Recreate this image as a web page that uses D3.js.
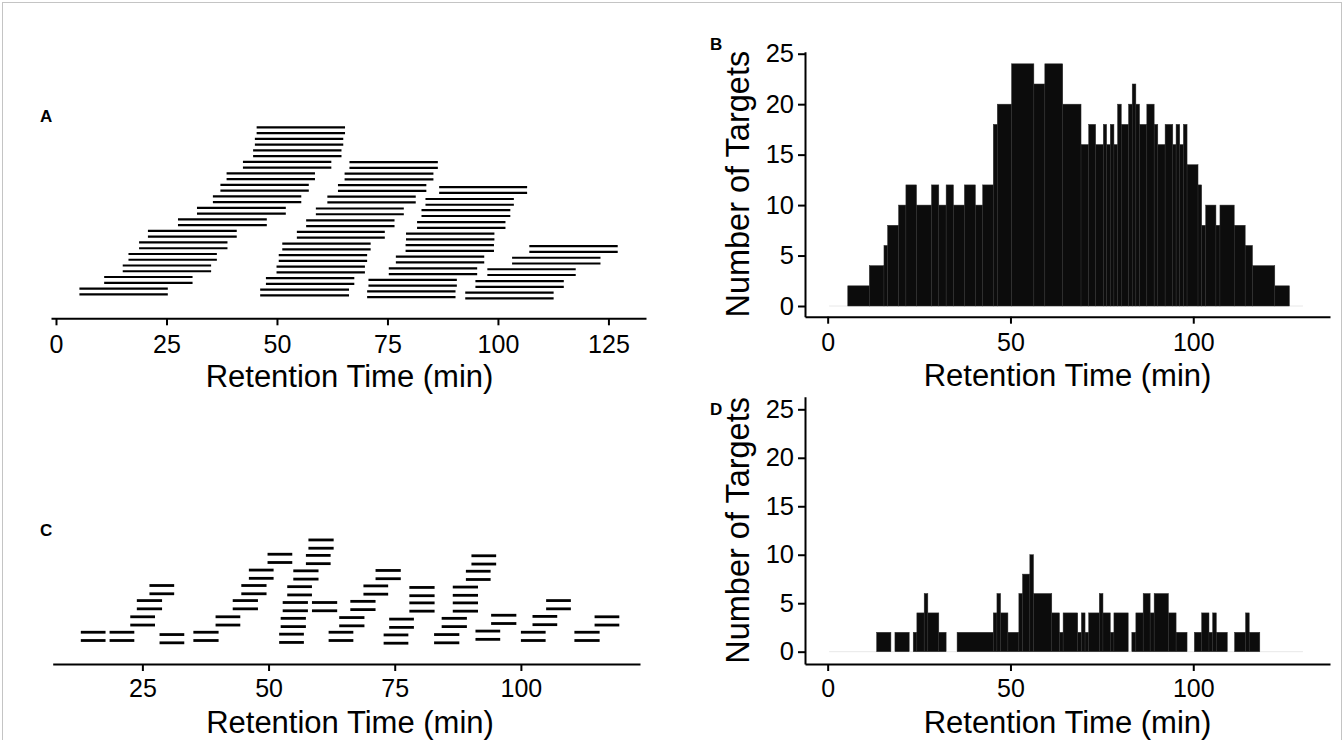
<!DOCTYPE html>
<html>
<head>
<meta charset="utf-8">
<script src="https://cdn.jsdelivr.net/npm/d3@7"></script>
<style>
  body { margin: 0; background: #fff; }
  svg { display: block; font-family: "Liberation Sans", Arial, Helvetica, sans-serif; }
</style>
</head>
<body>
<script>
'use strict';

// ---- panel A: scheduled windows, each pair of targets shares a window (min)
var aStart = [5.3, 10.9, 15.1, 16.4, 18.8, 20.8, 27.6, 31.9, 35.5, 37.2, 38.6, 42.3, 44.6, 45.0, 45.4,
              46.2, 47.5, 49.9, 50.4, 51.2, 54.5, 56.6, 58.8, 61.4, 63.8, 65.3, 66.4,
              70.4, 70.7, 75.3, 76.9, 79.1, 79.2, 81.7, 82.7, 83.6, 86.7,
              92.6, 94.9, 97.6, 103.2, 107.1];
var aEnd   = [25.3, 30.9, 35.1, 36.4, 38.8, 40.9, 47.7, 52.0, 55.5, 57.2, 58.6, 62.3, 64.6, 65.0, 65.4,
              66.3, 67.5, 69.9, 70.4, 71.2, 74.4, 76.6, 78.7, 81.4, 83.8, 85.4, 86.4,
              90.4, 90.7, 95.3, 96.9, 99.1, 99.2, 101.7, 102.8, 103.6, 106.6,
              112.6, 114.9, 117.6, 123.2, 127.1];
var aRow   = [0, 2, 4, 6, 8, 10, 12, 14, 16, 18, 20, 22, 24, 26, 28,
              -0.2, 1.8, 3.8, 5.8, 7.8, 9.85, 11.85, 13.9, 15.95, 17.95, 19.95, 21.95,
              -0.5, 1.5, 3.5, 5.55, 7.55, 9.55, 11.55, 13.6, 15.55, 17.6,
              -0.7, 1.3, 3.35, 5.35, 7.35];

// ---- panel B: number of targets per retention time
var bEdges = [5.5, 11.4, 15.4, 16.4, 19.4, 21.4, 24.3, 28.4, 30.4, 32.4, 34.4, 37.4, 40.4, 42.4, 45.3,
              46.4, 50.3, 56.4, 59.4, 64.3, 69.3, 71.4, 73.3, 75.4, 76.3, 77.3, 78.3, 79.3, 80.3,
              82.3, 83.3, 84.3, 85.3, 87.3, 89.3, 90.3, 92.3, 94.4, 95.3, 96.3, 97.3, 98.3, 101.3,
              102.3, 103.4, 106.2, 107.3, 111.2, 114.2, 116.2, 122.3, 126.3];
var bCounts = [2, 4, 6, 8, 10, 12, 10, 12, 10, 12, 10, 12, 10, 12, 18,
               20, 24, 22, 24, 20, 16, 18, 16, 18, 16, 18, 16, 20,
               18, 20, 22, 20, 18, 20, 18, 16, 18, 16, 18, 16, 18, 14,
               12, 8, 10, 8, 10, 8, 6, 4, 2];

// ---- panel C: short windows
var cStart = [12.8, 18.5, 22.6, 23.9, 26.4, 28.4, 35.1, 39.5, 42.9, 44.6, 46.1, 49.8,
              52.4, 52.1, 52.8, 53.7, 54.9, 57.4, 57.9, 58.6, 61.9, 64.0, 66.2, 68.8,
              71.2, 72.8, 73.9, 77.9, 77.9, 82.8, 84.3, 86.5, 86.5, 89.1, 90.2, 91.0,
              94.1, 100.0, 102.3, 105.0, 110.6, 114.6];
var cEnd   = [17.7, 23.4, 27.5, 28.9, 31.3, 33.3, 40.1, 44.4, 47.9, 49.6, 51.0, 54.7,
              57.4, 57.0, 57.8, 58.6, 59.9, 62.3, 62.9, 63.6, 66.8, 69.0, 71.2, 73.7,
              76.2, 77.7, 78.8, 82.9, 82.9, 87.8, 89.3, 91.5, 91.5, 94.0, 95.1, 95.9,
              99.1, 104.9, 107.2, 109.9, 115.6, 119.5];
var cRow   = [0, 0, 2, 4.1, 6.05, -0.3, 0, 2, 4.1, 6.05, 8.05, 10.1,
              1.8, -0.25, 3.85, 5.9, 7.95, 9.95, 11.95, 3.85, 0, 1.9, 4.0, 6.0,
              8.0, -0.35, 1.7, 3.8, 5.8, -0.3, 1.8, 3.8, 5.85, 7.9, 9.9, 0.15,
              2.2, 0, 2.05, 4.1, 0, 2];

// ---- panel D: number of targets per retention time (0 = gap)
var dEdges = [13.4, 17.3, 18.4, 22.3, 23.4, 24.4, 26.4, 27.4, 30.4, 32.4, 35.4, 45.3, 46.3, 47.3,
              49.3, 52.3, 53.3, 55.3, 56.3, 61.3, 63.4, 64.4, 68.4, 69.4, 70.4, 71.4, 74.3, 75.3,
              77.3, 78.3, 82.2, 83.2, 84.3, 86.3, 88.2, 89.3, 93.2, 95.3, 98.3, 100.3, 102.3,
              104.3, 105.3, 106.3, 109.3, 111.3, 114.3, 115.3, 118.2];
var dCounts = [2, 0, 2, 0, 2, 4, 6, 4, 2, 0, 2, 4, 6,
               4, 2, 6, 8, 10, 6, 4, 2, 4, 2, 4, 2, 4, 6,
               4, 2, 4, 0, 2, 4, 6, 4, 6, 4, 2, 0, 2,
               4, 2, 4, 2, 0, 2, 4, 2];

var zeroBins = [0.4, 130];
var ticksAC = [0, 25, 50, 75, 100, 125];
var ticksC = [25, 50, 75, 100];
var ticksBD = [0, 50, 100];
var ticksY = [0, 5, 10, 15, 20, 25];
var xTitle = 'Retention Time (min)';
var yTitle = 'Number of Targets';

var svg = d3.select('body').append('svg')
    .attr('width', 1344)
    .attr('height', 740);

svg.append('rect')
    .attr('x', 2.5).attr('y', 2.5)
    .attr('width', 1339).attr('height', 800)
    .attr('fill', 'none')
    .attr('stroke', '#c4c4c4')
    .attr('stroke-width', 1);

function styleAxis(g, size) {
  g.attr('font-family', null).attr('font-size', size);
  g.select('.domain').attr('stroke', '#000').attr('stroke-width', 2);
  g.selectAll('.tick line').attr('stroke', '#000').attr('stroke-width', 2);
  g.selectAll('.tick text').attr('fill', '#000');
}

function bottomAxis(scale, ticks, y, pad) {
  var g = svg.append('g').attr('transform', 'translate(0,' + y + ')')
    .call(d3.axisBottom(scale).tickValues(ticks).tickSize(7).tickSizeOuter(0)
      .tickPadding(pad).tickFormat(d3.format('d')));
  styleAxis(g, 25);
  return g;
}

function leftAxis(scale, x) {
  var g = svg.append('g').attr('transform', 'translate(' + x + ',0)')
    .call(d3.axisLeft(scale).tickValues(ticksY).tickSize(7).tickSizeOuter(0).tickPadding(4));
  styleAxis(g, 25.5);
  return g;
}

function title(x, y, text, rotate) {
  svg.append('text')
    .attr('transform', 'translate(' + x + ',' + y + ')' + (rotate ? ' rotate(-90)' : ''))
    .attr('text-anchor', 'middle')
    .attr('font-size', rotate ? 32.5 : 31)
    .attr('fill', '#000')
    .text(text);
}

function letter(x, y, t) {
  svg.append('text').attr('x', x).attr('y', y)
    .attr('font-size', 17).attr('font-weight', 'bold').attr('fill', '#000').text(t);
}

function windows(x, y, starts, ends, rows, gap, width) {
  var lines = [];
  starts.forEach(function(s, i) {
    lines.push({x0: s, x1: ends[i], r: rows[i]});
    lines.push({x0: s, x1: ends[i], r: rows[i] + gap});
  });
  svg.append('g').selectAll('line').data(lines).join('line')
      .attr('x1', function(d) { return x(d.x0); })
      .attr('x2', function(d) { return x(d.x1); })
      .attr('y1', function(d) { return y(d.r); })
      .attr('y2', function(d) { return y(d.r); })
      .attr('stroke', '#000')
      .attr('stroke-width', width);
}

function histogram(x, y, edges, counts) {
  var bins = counts.map(function(c, i) {
    return {x0: edges[i], x1: edges[i + 1], n: c};
  }).filter(function(d) { return d.n > 0; });
  var g = svg.append('g');
  g.append('line')
      .attr('x1', x(zeroBins[0])).attr('x2', x(zeroBins[1]))
      .attr('y1', y(0)).attr('y2', y(0))
      .attr('stroke', '#e8e8e8').attr('stroke-width', 1);
  g.selectAll('rect').data(bins).join('rect')
      .attr('x', function(d) { return x(d.x0); })
      .attr('width', function(d) { return x(d.x1) - x(d.x0); })
      .attr('y', function(d) { return y(d.n); })
      .attr('height', function(d) { return y(0) - y(d.n); })
      .attr('fill', '#0c0c0c')
      .attr('stroke', '#2e2e2e')
      .attr('stroke-width', 0.5);
}

// ---- A
var xA = d3.scaleLinear().domain([-1.13, 133.5]).range([51, 646]);
var yA = d3.scaleLinear().domain([0, 29]).range([294.3, 127.3]);
windows(xA, yA, aStart, aEnd, aRow, 1, 2.2);
bottomAxis(xA, ticksAC, 318.3, 9.6);
title(349.5, 387, xTitle);
letter(40, 122, 'A');

// ---- B
var xB = d3.scaleLinear().domain([-6.2, 137.4]).range([805, 1330]);
var yB = d3.scaleLinear().domain([-1.06, 25.2]).range([316.7, 51.7]);
histogram(xB, yB, bEdges, bCounts);
bottomAxis(xB, ticksBD, 316.7, 9.6);
leftAxis(yB, 805);
title(1067.5, 385.5, xTitle);
title(749, 184.2, yTitle, true);
letter(710, 50, 'B');

// ---- C
var xC = d3.scaleLinear().domain([7.23, 123.6]).range([52.7, 640]);
var yC = d3.scaleLinear().domain([0, 13]).range([640.5, 540.1]);
windows(xC, yC, cStart, cEnd, cRow, 1.07, 2.8);
bottomAxis(xC, ticksC, 664, 7.9);
title(350, 733, xTitle);
letter(40, 536, 'C');

// ---- D
var xD = d3.scaleLinear().domain([-6.2, 137.4]).range([805, 1330]);
var yD = d3.scaleLinear().domain([-1.27, 26.3]).range([664, 396.7]);
histogram(xD, yD, dEdges, dCounts);
bottomAxis(xD, ticksBD, 664, 7.9);
leftAxis(yD, 805);
title(1067.5, 733, xTitle);
title(749, 530.4, yTitle, true);
letter(710, 415, 'D');
</script>
</body>
</html>
